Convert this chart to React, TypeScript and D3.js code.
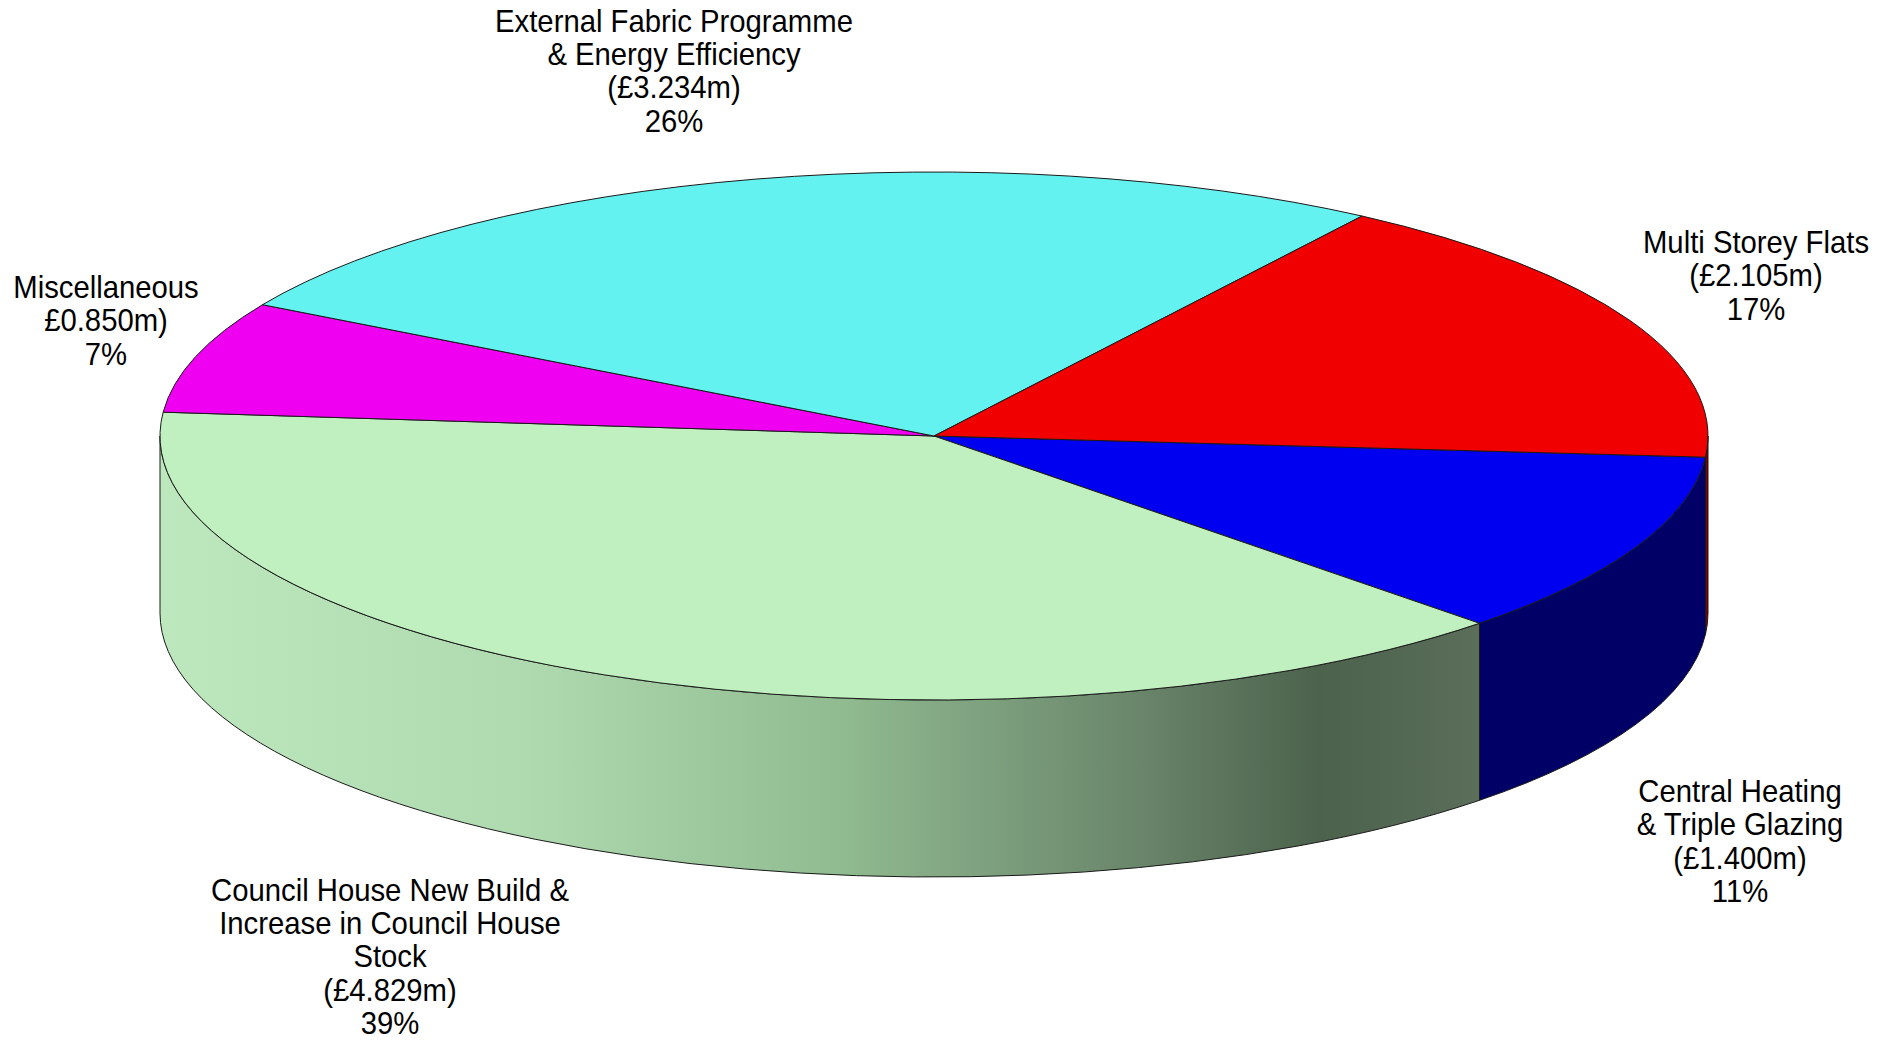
import React from "react";
import * as d3 from "d3";

const categories = [
  "Central Heating & Triple Glazing",
  "Council House New Build & Increase in Council House Stock",
  "Miscellaneous",
  "External Fabric Programme & Energy Efficiency",
  "Multi Storey Flats",
];
const values = [1.4, 4.829, 0.85, 3.234, 2.105];
const labelLines = [
  ["Central Heating", "& Triple Glazing", "(£1.400m)", "11%"],
  ["Council House New Build &", "Increase in Council House", "Stock", "(£4.829m)", "39%"],
  ["Miscellaneous", "£0.850m)", "7%"],
  ["External Fabric Programme", "& Energy Efficiency", "(£3.234m)", "26%"],
  ["Multi Storey Flats", "(£2.105m)", "17%"],
];
const topColors = ["#0000F0", "#C0F0C0", "#F000F0", "#64F2F0", "#F00000"];
const sideColors = ["#000066", "url(#greenSide)", "#800080", "#2a8a88", "#7a0000"];

const W = 1886;
const H = 1040;
const cx = 934;
const cy = 436;
const rx = 774;
const ry = 264;
const depth = 177;
const startT = (4.6 * Math.PI) / 180; // screen angle of first slice start
const fontSize = 32;
const lineH = 33.5;
const labelPos: [number, number][] = [
  [1740, 802],
  [390, 900.5],
  [106, 298],
  [674, 31.5],
  [1756, 252.6],
];

const pt = (t: number, dy = 0): [number, number] => [cx + rx * Math.cos(t), cy + ry * Math.sin(t) + dy];

function topPath(a0: number, a1: number) {
  const p0 = pt(a0);
  const p1 = pt(a1);
  const large = a1 - a0 > Math.PI ? 1 : 0;
  return `M${cx},${cy}L${p0[0]},${p0[1]}A${rx},${ry} 0 ${large} 1 ${p1[0]},${p1[1]}Z`;
}

function sidePath(s: number, e: number) {
  const p0 = pt(s);
  const p1 = pt(e);
  const q1 = pt(e, depth);
  const q0 = pt(s, depth);
  return `M${p0[0]},${p0[1]}A${rx},${ry} 0 0 1 ${p1[0]},${p1[1]}L${q1[0]},${q1[1]}A${rx},${ry} 0 0 0 ${q0[0]},${q0[1]}Z`;
}

function frontParts(a0: number, a1: number): [number, number][] {
  const out: [number, number][] = [];
  const TAU = Math.PI * 2;
  const s = ((a0 % TAU) + TAU) % TAU;
  const e = s + (a1 - a0);
  for (const [lo, hi] of [
    [0, Math.PI],
    [TAU, TAU + Math.PI],
  ]) {
    const ss = Math.max(s, lo);
    const ee = Math.min(e, hi);
    if (ee > ss + 1e-4) out.push([ss, ee]);
  }
  return out;
}

export default function App() {
  const pie = d3
    .pie<number>()
    .sort(null)
    .startAngle(startT + Math.PI / 2)
    .endAngle(startT + Math.PI / 2 + Math.PI * 2);
  const arcs = pie(values).map((a) => ({
    t0: a.startAngle - Math.PI / 2,
    t1: a.endAngle - Math.PI / 2,
    i: a.index,
  }));

  return (
    <svg
      width={W}
      height={H}
      style={{ position: "absolute", left: 0, top: 0, background: "#fff" }}
      fontFamily="'Liberation Sans', Arial, sans-serif"
    >
      <defs>
        <linearGradient id="greenSide" gradientUnits="userSpaceOnUse" x1={160} y1={0} x2={1477} y2={0}>
          <stop offset="0" stopColor="#BDE8BD" />
          <stop offset="0.28" stopColor="#AFDAAF" />
          <stop offset="0.52" stopColor="#90BA90" />
          <stop offset="0.74" stopColor="#6A866B" />
          <stop offset="0.88" stopColor="#4C624C" />
          <stop offset="1" stopColor="#5A6E5A" />
        </linearGradient>
      </defs>
      {arcs.map((a) =>
        frontParts(a.t0, a.t1).map(([s, e], k) => (
          <path
            key={`s${a.i}-${k}`}
            d={sidePath(s, e)}
            fill={sideColors[a.i]}
            stroke="#1a1a1a"
            strokeWidth={1}
            strokeLinejoin="round"
          />
        ))
      )}
      {arcs.map((a) => (
        <path
          key={`t${a.i}`}
          d={topPath(a.t0, a.t1)}
          fill={topColors[a.i]}
          stroke="#1a1a1a"
          strokeWidth={1}
          strokeLinejoin="round"
        />
      ))}
      {labelLines.map((lines, i) => (
        <g key={`l${i}`} transform={`translate(${labelPos[i][0]},${labelPos[i][1]}) scale(0.915,1)`}>
          <text textAnchor="middle" fontSize={fontSize} fill="#000" aria-label={categories[i]}>
            {lines.map((ln, j) => (
              <tspan key={j} x={0} y={j * lineH}>
                {ln}
              </tspan>
            ))}
          </text>
        </g>
      ))}
    </svg>
  );
}
